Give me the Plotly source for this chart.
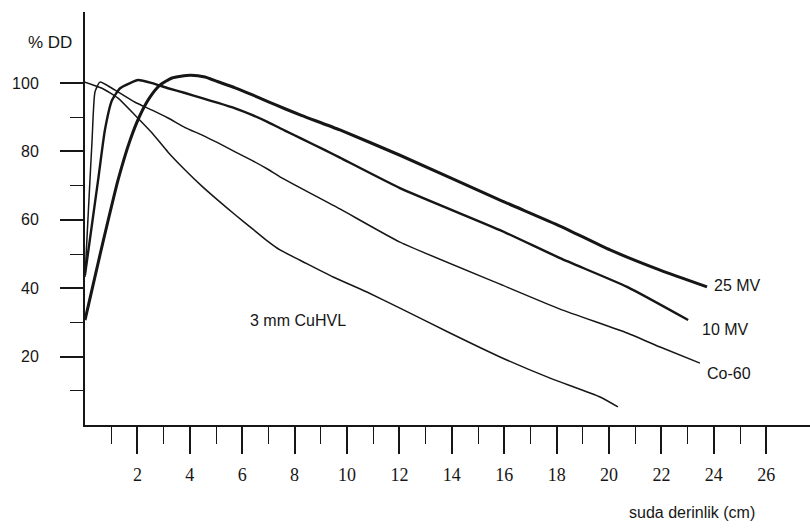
import plotly.graph_objects as go

# Percent depth dose curves (depth in cm, % DD)
depth_25mv = [0.00, 0.57, 1.26, 1.72, 2.10, 2.48, 2.86, 3.32, 4.01, 4.58, 5.08, 5.73, 6.37, 6.98,
              7.63, 8.28, 9.73, 12.02, 15.84, 18.13, 20.04, 21.95, 23.74]
pdd_25mv = [30.7, 49.7, 71.6, 83.3, 90.6, 95.9, 99.4, 101.5, 102.3, 101.8, 100.4, 98.6, 96.6, 94.6,
            92.5, 90.5, 86.3, 78.9, 65.8, 58.2, 51.2, 45.3, 40.4]

depth_10mv = [0.00, 0.50, 0.76, 1.03, 1.34, 1.72, 2.02, 2.56, 3.17, 3.82, 4.47, 5.08, 5.73, 6.37,
              6.98, 7.63, 8.28, 9.16, 9.73, 12.02, 15.84, 18.13, 20.69, 23.02]
pdd_10mv = [43.9, 71.6, 86.3, 95.0, 98.5, 100.0, 100.9, 100.0, 98.5, 97.1, 95.6, 94.2, 92.6, 90.7,
            88.6, 86.1, 83.7, 80.4, 78.2, 69.3, 57.0, 48.8, 40.4, 30.7]

depth_co60 = [0.00, 0.15, 0.27, 0.38, 0.57, 1.03, 1.91, 2.56, 3.17, 3.82, 4.47, 5.08, 5.73, 6.37,
              6.98, 7.44, 9.73, 12.02, 15.84, 18.13, 20.69, 21.95, 23.47]
pdd_co60 = [43.3, 65.8, 83.3, 97.4, 100.3, 98.5, 94.4, 92.1, 89.8, 87.0, 84.8, 82.5, 79.9, 77.4,
            74.8, 72.6, 63.2, 53.5, 41.2, 33.9, 26.9, 22.8, 18.1]

depth_cu = [0.00, 0.65, 1.26, 1.91, 2.56, 3.17, 3.82, 4.47, 5.08, 5.73, 6.37, 6.98, 7.44, 8.21,
            9.47, 10.76, 12.02, 13.93, 15.84, 17.75, 19.66, 20.34]
pdd_cu = [100.3, 98.5, 95.6, 90.6, 85.4, 79.8, 74.6, 69.8, 65.7, 61.5, 57.5, 53.7, 51.2, 48.2,
          43.3, 38.9, 34.2, 26.9, 19.9, 13.7, 8.2, 5.3]

x_major = [2, 4, 6, 8, 10, 12, 14, 16, 18, 20, 22, 24, 26]
x_minor = [1, 3, 5, 7, 9, 11, 13, 15, 17, 19, 21, 23, 25]
y_major = [20, 40, 60, 80, 100]
y_minor = [10, 30, 50, 70, 90]

INK = "#161616"

fig = go.Figure()
series = [
    (depth_25mv, pdd_25mv, 3.0, "25 MV"),
    (depth_10mv, pdd_10mv, 2.4, "10 MV"),
    (depth_co60, pdd_co60, 1.5, "Co-60"),
    (depth_cu, pdd_cu, 1.5, "3 mm CuHVL"),
]
for xs, ys, w, name in series:
    fig.add_trace(go.Scatter(x=xs, y=ys, mode="lines", name=name,
                             line=dict(color=INK, width=w, shape="spline", smoothing=0.5),
                             showlegend=False))

label_font = dict(family="Liberation Sans, Arial, sans-serif", size=16, color=INK)
annos = [
    ("25 MV", 23.93, 40.9),
    ("10 MV", 23.47, 27.8),
    ("Co-60", 23.66, 15.2),
    ("3 mm CuHVL", 6.22, 30.7),
]
for text, ax, ay in annos:
    fig.add_annotation(x=ax, y=ay, text=text, showarrow=False, xanchor="left",
                       yanchor="middle", font=label_font)

fig.add_annotation(xref="paper", yref="paper", x=-0.0483, y=0.925, text="% DD",
                   showarrow=False, xanchor="center", yanchor="middle",
                   font=dict(family="Liberation Sans, Arial, sans-serif", size=17, color=INK))
fig.add_annotation(xref="paper", yref="paper", x=0.837, y=-0.213, text="suda derinlik (cm)",
                   showarrow=False, xanchor="center", yanchor="middle", font=label_font)

fig.update_layout(
    width=810, height=528,
    margin=dict(l=85, r=0, t=12, b=103),
    paper_bgcolor="white", plot_bgcolor="white",
    showlegend=False,
)
fig.update_xaxes(
    range=[0, 27.67], showgrid=False, zeroline=False,
    showline=True, linecolor=INK, linewidth=2,
    tickmode="array", tickvals=x_major, ticktext=[str(v) for v in x_major],
    ticks="outside", ticklen=27, tickwidth=1.6, tickcolor=INK,
    ticklabelstandoff=5,
    tickfont=dict(family="Liberation Serif, Times New Roman, serif", size=18, color=INK),
    minor=dict(tickmode="array", tickvals=x_minor, ticks="outside", ticklen=17,
               tickwidth=1.4, tickcolor=INK, showgrid=False),
)
fig.update_yaxes(
    range=[0, 120.8], showgrid=False, zeroline=False,
    showline=True, linecolor=INK, linewidth=2,
    tickmode="array", tickvals=y_major, ticktext=[str(v) for v in y_major],
    ticks="outside", ticklen=23, tickwidth=1.6, tickcolor=INK,
    ticklabelstandoff=18,
    tickfont=dict(family="Liberation Sans, Arial, sans-serif", size=16, color=INK),
    minor=dict(tickmode="array", tickvals=y_minor, ticks="outside", ticklen=13,
               tickwidth=1.4, tickcolor=INK, showgrid=False),
)

fig.write_html("out.html")
